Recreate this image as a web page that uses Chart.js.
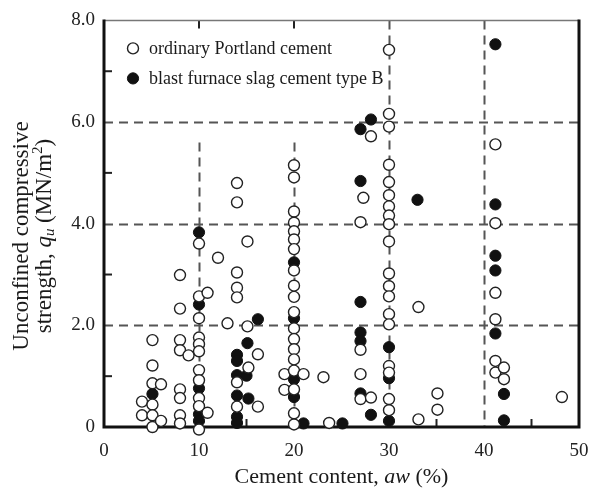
<!DOCTYPE html>
<html>
<head>
<meta charset="utf-8">
<title>Unconfined compressive strength vs cement content</title>
<script src="https://cdn.jsdelivr.net/npm/chart.js@4/dist/chart.umd.min.js"></script>
<style>
    body { margin: 0; background: #fff; }
    #scatter { display: block; }
</style>
</head>
<body>
<canvas id="scatter" width="591" height="490"></canvas>
<script>
// ordinary Portland cement: cement content (%) / strength (MN/m2)
var portlandContent = [
    4.0, 4.0,
    5.1, 5.1, 5.1, 5.1, 5.1, 5.1,
    6.0, 6.0,
    8.0, 8.0, 8.0, 8.0, 8.0, 8.0, 8.0, 8.0,
    8.9,
    10, 10, 10, 10, 10, 10, 10, 10, 10, 10, 10,
    10.9, 10.9, 12.0, 13.0,
    14, 14, 14, 14, 14, 14, 14,
    15.1, 15.1, 15.2,
    16.2, 16.2,
    19.0, 19.0,
    20, 20, 20, 20, 20, 20, 20, 20, 20, 20, 20, 20, 20, 20, 20, 20, 20, 20, 20,
    21.0, 23.1, 23.7,
    27.0, 27.0, 27.0, 27.0, 27.3,
    28.1, 28.1,
    30, 30, 30, 30, 30, 30, 30, 30, 30, 30, 30, 30, 30, 30, 30, 30, 30, 30, 30,
    33.1, 33.1,
    35.1, 35.1,
    41.2, 41.2, 41.2, 41.2, 41.2, 41.2,
    42.1, 42.1,
    48.2
];
var portlandStrength = [
    0.50, 0.23,
    1.71, 1.21, 0.86, 0.44, 0.23, 0.00,
    0.84, 0.12,
    2.99, 2.33, 1.71, 1.51, 0.74, 0.57, 0.23, 0.07,
    1.41,
    3.61, 2.57, 2.14, 1.76, 1.63, 1.49, 1.12, 0.92, 0.57, 0.41, -0.05,
    2.64, 0.28, 3.33, 2.04,
    4.80, 4.42, 3.04, 2.74, 2.55, 0.88, 0.40,
    3.65, 1.98, 1.17,
    1.43, 0.40,
    1.04, 0.73,
    5.15, 4.91, 4.24, 4.02, 3.85, 3.69, 3.50, 3.08, 2.78, 2.56, 2.26, 1.94, 1.73, 1.53, 1.33, 1.11, 0.74, 0.27, 0.05,
    1.04, 0.98, 0.08,
    4.03, 1.52, 1.04, 0.55, 4.51,
    5.72, 0.58,
    7.42, 6.16, 5.91, 5.16, 4.82, 4.56, 4.34, 4.16, 3.99, 3.65, 3.02, 2.77, 2.57, 2.22, 2.02, 1.20, 1.07, 0.55, 0.33,
    2.36, 0.15,
    0.66, 0.34,
    5.56, 4.01, 2.64, 2.12, 1.30, 1.07,
    1.17, 0.94,
    0.59
];

// blast furnace slag cement type B
var slagContent = [
    5.1,
    10, 10, 10, 10, 10,
    14, 14, 14, 14, 14, 14,
    15.1, 15.0, 15.2, 16.2,
    20, 20, 20, 20,
    21.0, 25.1,
    27.0, 27.0, 27.0, 27.0, 27.0, 27.0,
    28.1, 28.1,
    30, 30, 30,
    33.0,
    41.2, 41.2, 41.2, 41.2, 41.2,
    42.1, 42.1
];
var slagStrength = [
    0.65,
    3.83, 2.41, 0.76, 0.25, 0.12,
    1.42, 1.30, 1.02, 0.62, 0.20, 0.08,
    1.65, 1.01, 0.56, 2.12,
    3.24, 2.14, 0.94, 0.59,
    0.07, 0.07,
    5.86, 4.84, 2.46, 1.86, 1.69, 0.66,
    6.05, 0.24,
    1.57, 0.96, 0.12,
    4.47,
    7.53, 4.38, 3.37, 3.08, 1.84,
    0.65, 0.13
];

var seriesNames = ['ordinary Portland cement', 'blast furnace slag cement type B'];

var xTicks = [0, 10, 20, 30, 40, 50];
var yTicks = [0, 2, 4, 6, 8];

var serif = "'Liberation Serif', 'Times New Roman', serif";

function toPoints(xs, ys)
{
    var points = [];
    for (var i = 0; i < xs.length; i++) {
        points.push({x: xs[i], y: ys[i]});
    }
    return points;
}

// draws one line of text made of pieces (italic, subscript, superscript), centred on cx
function drawRichLine(ctx, parts, cx, cy, size)
{
    var total = 0;
    for (var i = 0; i < parts.length; i++) {
        var p = parts[i];
        var s = p.small ? size * 0.65 : size;
        ctx.font = (p.italic ? 'italic ' : '') + s + 'px ' + serif;
        p.w = ctx.measureText(p.text).width;
        total += p.w;
    }
    var x = cx - total / 2;
    ctx.textAlign = 'left';
    ctx.textBaseline = 'middle';
    for (var j = 0; j < parts.length; j++) {
        var q = parts[j];
        var sz = q.small ? size * 0.65 : size;
        ctx.font = (q.italic ? 'italic ' : '') + sz + 'px ' + serif;
        ctx.fillText(q.text, x, cy + (q.shift || 0) * size);
        x += q.w;
    }
}

// dashed grid, frame and inner tick marks
var framePlugin = {
    id: 'frame',
    beforeDatasetsDraw: function(chart) {
        var ctx = chart.ctx;
        var xs = chart.scales.x;
        var ys = chart.scales.y;
        var area = chart.chartArea;

        ctx.save();
        ctx.strokeStyle = '#555';
        ctx.lineWidth = 2;
        ctx.setLineDash([9, 6]);

        [2, 4, 6].forEach(function(v) {
            var py = Math.round(ys.getPixelForValue(v)) + 0.5;
            ctx.beginPath();
            ctx.moveTo(area.left, py);
            ctx.lineTo(area.right, py);
            ctx.stroke();
        });

        // the lines at 10 and 20 stop below the legend
        [[10, 5.6], [20, 5.6], [30, 8], [40, 8]].forEach(function(g) {
            var px = Math.round(xs.getPixelForValue(g[0])) + 0.5;
            ctx.beginPath();
            ctx.moveTo(px, ys.getPixelForValue(g[1]));
            ctx.lineTo(px, area.bottom);
            ctx.stroke();
        });
        ctx.setLineDash([]);

        // inner ticks
        ctx.strokeStyle = '#222';
        ctx.lineWidth = 2;
        var tick = 8;
        [1, 3, 5, 7].forEach(function(v) {
            var py = ys.getPixelForValue(v);
            ctx.beginPath();
            ctx.moveTo(area.left, py);
            ctx.lineTo(area.left + tick, py);
            ctx.stroke();
        });
        [5, 15, 25, 35, 45].forEach(function(v) {
            var px = xs.getPixelForValue(v);
            ctx.beginPath();
            ctx.moveTo(px, area.bottom);
            ctx.lineTo(px, area.bottom - tick);
            ctx.stroke();
        });
        [10, 20].forEach(function(v) {
            var px = xs.getPixelForValue(v);
            ctx.beginPath();
            ctx.moveTo(px, area.top);
            ctx.lineTo(px, area.top + tick);
            ctx.stroke();
        });

        // box: thin grey top, heavy black left/bottom/right
        ctx.strokeStyle = '#777';
        ctx.lineWidth = 1.5;
        ctx.beginPath();
        ctx.moveTo(area.left, area.top);
        ctx.lineTo(area.right, area.top);
        ctx.stroke();

        ctx.strokeStyle = '#111';
        ctx.lineWidth = 3;
        ctx.beginPath();
        ctx.moveTo(area.left, area.top - 1);
        ctx.lineTo(area.left, area.bottom);
        ctx.lineTo(area.right, area.bottom);
        ctx.lineTo(area.right, area.top - 1);
        ctx.stroke();
        ctx.restore();
    },
    afterDraw: function(chart) {
        var ctx = chart.ctx;
        var area = chart.chartArea;
        var sets = chart.data.datasets;

        ctx.save();
        ctx.fillStyle = '#1a1a1a';

        // legend
        for (var i = 0; i < sets.length; i++) {
            var ly = area.top + 28 + i * 30;
            var lx = area.left + 29;
            ctx.beginPath();
            ctx.arc(lx, ly, sets[i].pointRadius, 0, Math.PI * 2);
            ctx.fillStyle = sets[i].backgroundColor;
            ctx.fill();
            ctx.lineWidth = sets[i].borderWidth;
            ctx.strokeStyle = sets[i].borderColor;
            ctx.stroke();

            ctx.fillStyle = '#1a1a1a';
            ctx.font = '18px ' + serif;
            ctx.textAlign = 'left';
            ctx.textBaseline = 'middle';
            ctx.fillText(sets[i].label, lx + 16, ly + 1);
        }

        // axis titles
        drawRichLine(ctx, [
            {text: 'Cement content, '},
            {text: 'aw', italic: true},
            {text: ' (%)'}
        ], (area.left + area.right) / 2, 477, 22);

        ctx.translate(22, 236);
        ctx.rotate(-Math.PI / 2);
        drawRichLine(ctx, [{text: 'Unconfined compressive'}], 0, 0, 23);
        drawRichLine(ctx, [
            {text: 'strength, '},
            {text: 'q', italic: true},
            {text: 'u', italic: true, small: true, shift: 0.22},
            {text: ' (MN/m'},
            {text: '2', small: true, shift: -0.3},
            {text: ')'}
        ], 0, 23, 23);
        ctx.restore();
    }
};

function printScatterChart()
{
    var chart = new Chart(document.getElementById('scatter'), {
        type: 'scatter',
        data: {
            datasets: [{
                label: seriesNames[0],
                data: toPoints(portlandContent, portlandStrength),
                backgroundColor: '#ffffff',
                borderColor: '#222222',
                borderWidth: 1.4,
                pointRadius: 5.5,
                clip: false
            }, {
                label: seriesNames[1],
                data: toPoints(slagContent, slagStrength),
                backgroundColor: '#111111',
                borderColor: '#111111',
                borderWidth: 1,
                pointRadius: 5.6,
                clip: false
            }]
        },
        options: {
            responsive: false,
            animation: false,
            events: [],
            layout: {
                padding: {top: 15, right: 0, left: 0, bottom: 0}
            },
            plugins: {
                legend: {display: false},
                tooltip: {enabled: false}
            },
            scales: {
                x: {
                    type: 'linear',
                    min: xTicks[0],
                    max: xTicks[xTicks.length - 1],
                    afterFit: function(scale) {
                        scale.height = 63;
                        scale.paddingRight = 12;
                    },
                    afterBuildTicks: function(scale) {
                        scale.ticks = xTicks.map(function(v) { return {value: v}; });
                    },
                    ticks: {
                        color: '#222',
                        padding: 13,
                        font: {family: serif, size: 19}
                    },
                    grid: {display: false, drawTicks: false},
                    border: {display: false}
                },
                y: {
                    type: 'linear',
                    min: yTicks[0],
                    max: yTicks[yTicks.length - 1],
                    afterFit: function(scale) { scale.width = 104; },
                    afterBuildTicks: function(scale) {
                        scale.ticks = yTicks.map(function(v) { return {value: v}; });
                    },
                    ticks: {
                        color: '#222',
                        padding: 9,
                        font: {family: serif, size: 19},
                        callback: function(value) {
                            return value === 0 ? '0' : value.toFixed(1);
                        }
                    },
                    grid: {display: false, drawTicks: false},
                    border: {display: false}
                }
            }
        },
        plugins: [framePlugin]
    });
}

printScatterChart();
</script>
</body>
</html>
